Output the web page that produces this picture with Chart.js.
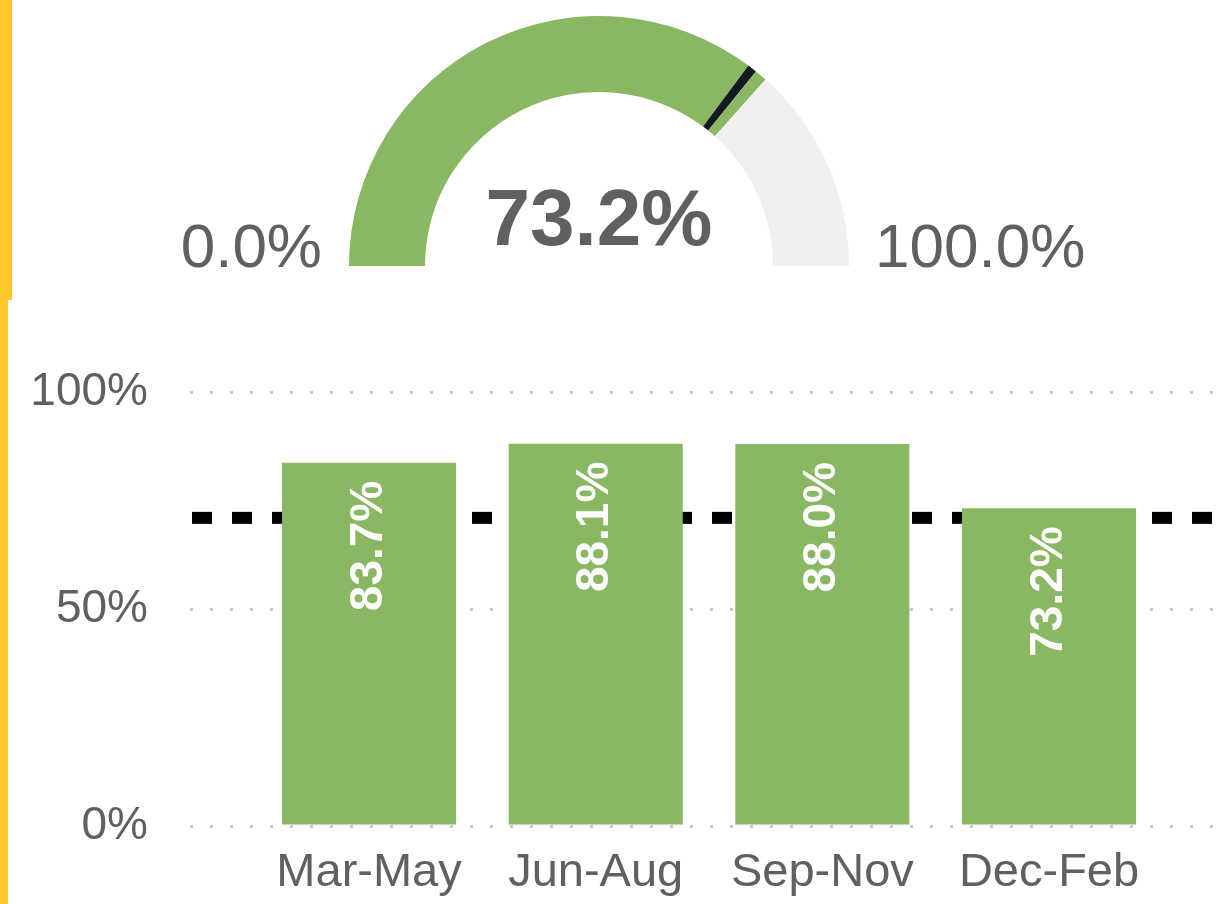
<!DOCTYPE html>
<html>
<head>
<meta charset="utf-8">
<script src="https://cdn.jsdelivr.net/npm/chart.js@4.4.0/dist/chart.umd.min.js"></script>
<style>
    html, body { margin: 0; padding: 0; background: #fff; }
    body { width: 1219px; height: 904px; position: relative; overflow: hidden; }
    .stripe-top { position: absolute; left: 0; top: 0; width: 12px; height: 300px; background: #ffc72c; }
    .stripe-bottom { position: absolute; left: 0; top: 300px; width: 8px; height: 604px; background: #ffc72c; }
    #gaugeBox { position: absolute; left: 12px; top: 0; width: 1207px; height: 300px; }
    #barBox { position: absolute; left: 8px; top: 300px; width: 1211px; height: 604px; }
</style>
</head>
<body>
<div class="stripe-top"></div>
<div class="stripe-bottom"></div>
<div id="gaugeBox"><canvas id="gaugeChart"></canvas></div>
<div id="barBox"><canvas id="barChart"></canvas></div>
<script>
    // gauge
    const gaugeValue = 73.2;
    const gaugeTarget = 71;
    const gaugeMin = 0;
    const gaugeMax = 100;

    // bars
    const seasons = ['Mar-May', 'Jun-Aug', 'Sep-Nov', 'Dec-Feb'];
    const seasonValues = [83.7, 88.1, 88.0, 73.2];
    const yTicks = [0, 50, 100];

    const FONT = '"Liberation Sans", Arial, sans-serif';
    const GREEN = '#8ab762';
    const GREY_TEXT = '#606060';
    const markerWidth = 1.2;

    const gaugeText = {
        id: 'gaugeText',
        afterDraw(chart) {
            const ctx = chart.ctx;
            const arc = chart.getDatasetMeta(0).data[0];
            const r = arc.outerRadius;
            ctx.save();
            ctx.fillStyle = GREY_TEXT;
            ctx.textBaseline = 'alphabetic';
            ctx.font = '62px ' + FONT;
            ctx.textAlign = 'right';
            ctx.fillText(gaugeMin.toFixed(1) + '%', arc.x - r - 27, arc.y + 1);
            ctx.textAlign = 'left';
            ctx.fillText(gaugeMax.toFixed(1) + '%', arc.x + r + 26, arc.y + 1);
            ctx.font = 'bold 80px ' + FONT;
            ctx.textAlign = 'center';
            ctx.fillText(gaugeValue.toFixed(1) + '%', arc.x, arc.y - 21);
            ctx.restore();
        }
    };

    new Chart(document.getElementById('gaugeChart'), {
        type: 'doughnut',
        data: {
            datasets: [{
                data: [gaugeTarget - markerWidth / 2, markerWidth, gaugeValue - gaugeTarget - markerWidth / 2, gaugeMax - gaugeValue],
                backgroundColor: [GREEN, '#111b22', GREEN, '#f1f0ee'],
                borderWidth: 0
            }]
        },
        options: {
            responsive: true,
            maintainAspectRatio: false,
            animation: false,
            rotation: -90,
            circumference: 180,
            cutout: '69.6%',
            layout: { padding: { top: 16, bottom: 34, left: 87, right: 120 } },
            plugins: { legend: { display: false }, tooltip: { enabled: false } },
            events: []
        },
        plugins: [gaugeText]
    });

    const targetLine = {
        id: 'targetLine',
        beforeDatasetsDraw(chart) {
            const ctx = chart.ctx;
            const y = chart.scales.y.getPixelForValue(gaugeTarget);
            const area = chart.chartArea;
            ctx.save();
            ctx.strokeStyle = '#000';
            ctx.lineWidth = 12;
            ctx.setLineDash([20, 20]);
            ctx.beginPath();
            ctx.moveTo(area.left + 2, y);
            ctx.lineTo(area.right, y);
            ctx.stroke();
            ctx.restore();
        }
    };

    const barLabels = {
        id: 'barLabels',
        afterDatasetsDraw(chart) {
            const ctx = chart.ctx;
            const meta = chart.getDatasetMeta(0);
            ctx.save();
            ctx.fillStyle = '#fff';
            ctx.font = 'bold 46px ' + FONT;
            ctx.textAlign = 'right';
            ctx.textBaseline = 'middle';
            meta.data.forEach((bar, i) => {
                ctx.save();
                ctx.translate(bar.x, bar.y + 18);
                ctx.rotate(-Math.PI / 2);
                ctx.fillText(seasonValues[i].toFixed(1) + '%', 0, 0);
                ctx.restore();
            });
            ctx.restore();
        }
    };

    new Chart(document.getElementById('barChart'), {
        type: 'bar',
        data: {
            datasets: [{
                data: seasonValues.map((v, i) => ({ x: i, y: v })),
                backgroundColor: GREEN,
                borderWidth: 0,
                categoryPercentage: 1,
                barPercentage: 0.768
            }]
        },
        options: {
            responsive: true,
            maintainAspectRatio: false,
            animation: false,
            layout: { padding: { top: 92, right: 0, left: 0, bottom: 0 } },
            plugins: { legend: { display: false }, tooltip: { enabled: false } },
            events: [],
            scales: {
                x: {
                    type: 'linear',
                    offset: false,
                    min: -0.79,
                    max: 3.75,
                    afterFit: s => { s.height = 78; },
                    grid: { display: false, offset: false },
                    border: { display: false },
                    ticks: {
                        stepSize: 1,
                        includeBounds: false,
                        autoSkip: false,
                        maxRotation: 0,
                        padding: 11,
                        color: GREY_TEXT,
                        font: { family: FONT, size: 47 },
                        callback: v => Number.isInteger(v) ? seasons[v] : ''
                    }
                },
                y: {
                    min: 0,
                    max: 100,
                    afterFit: s => { s.width = 182; },
                    afterBuildTicks: s => { s.ticks = yTicks.map(v => ({ value: v })); },
                    grid: { color: '#c8c8c8', lineWidth: 3, drawTicks: false },
                    border: { display: false, dash: [3, 17] },
                    ticks: {
                        padding: 42,
                        color: GREY_TEXT,
                        font: { family: FONT, size: 46 },
                        callback: v => v + '%'
                    }
                }
            }
        },
        plugins: [targetLine, barLabels]
    });
</script>
</body>
</html>
